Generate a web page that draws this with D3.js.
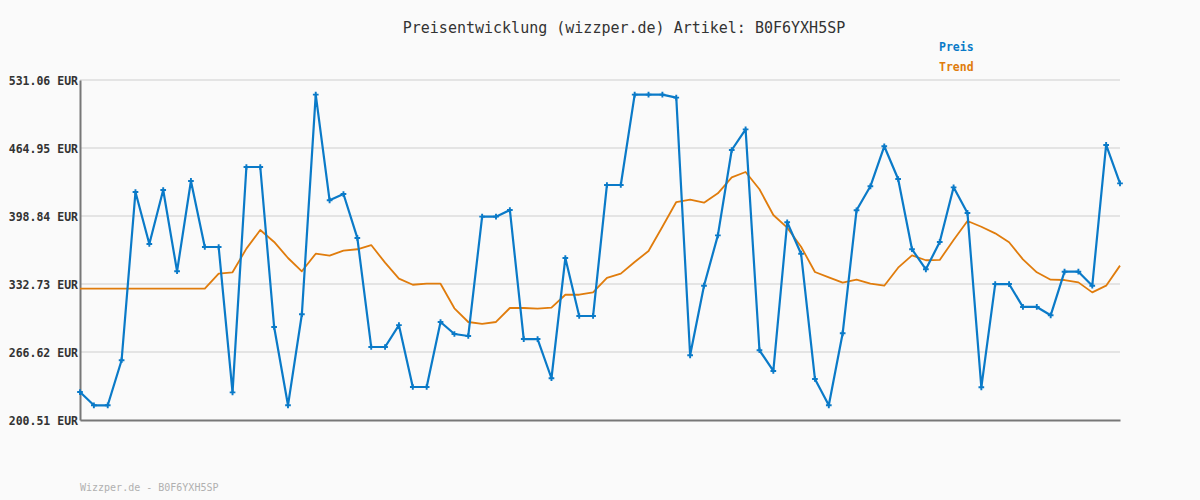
<!DOCTYPE html>
<html><head><meta charset="utf-8">
<script src="https://cdn.jsdelivr.net/npm/d3@7"></script>
<style>body{margin:0;background:#fafafa;}svg{display:block;}</style>
</head><body>
<script>
const titleText = "Preisentwicklung (wizzper.de) Artikel: B0F6YXH5SP";
const footerText = "Wizzper.de - B0F6YXH5SP";
const seriesNames = ["Preis", "Trend"];
const yTicks = [200.51, 266.62, 332.73, 398.84, 464.95, 531.06];
const yTickLabels = ["200.51 EUR", "266.62 EUR", "332.73 EUR", "398.84 EUR", "464.95 EUR", "531.06 EUR"];
const preis = [227.7, 214.8, 214.8, 258.6, 422.2, 371.6, 424.1, 345.1, 432.9, 368.7,
  368.7, 227.4, 446.5, 446.5, 290.9, 214.8, 303.3, 516.8, 414.1, 420.2,
  377.5, 271.5, 271.5, 292.7, 232.6, 232.6, 295.8, 284.1, 282.2, 398.2,
  398.2, 404.7, 279.2, 279.2, 241.1, 358.0, 301.6, 301.6, 429.0, 429.0,
  516.8, 516.8, 516.8, 513.9, 263.4, 331.1, 380.0, 463.0, 483.1, 268.3,
  248.2, 392.7, 362.2, 240.4, 214.8, 284.8, 404.4, 427.7, 466.6, 434.8,
  366.5, 347.0, 373.6, 426.7, 401.8, 232.3, 332.7, 332.7, 310.4, 310.4,
  302.3, 344.7, 344.7, 331.1, 467.9, 430.6];
const trend = [328.2, 328.2, 328.2, 328.2, 328.2, 328.2, 328.2, 328.2, 328.2, 328.2,
  342.8, 344.1, 367.1, 385.2, 373.6, 358.0, 345.1, 362.2, 360.3, 365.1,
  366.5, 370.6, 353.5, 338.0, 332.0, 333.0, 333.0, 309.1, 295.8, 293.9,
  295.8, 309.4, 309.4, 308.7, 309.7, 322.3, 322.3, 324.6, 338.6, 342.8,
  354.1, 364.8, 388.4, 412.4, 414.7, 411.8, 420.9, 436.4, 441.6, 424.8,
  399.8, 387.5, 369.0, 344.4, 339.2, 334.0, 336.9, 333.0, 331.1, 348.6,
  360.6, 355.8, 356.1, 375.5, 394.0, 388.4, 382.0, 373.3, 356.7, 344.1,
  336.9, 336.6, 334.3, 324.6, 331.1, 350.6];

const W = 1200, H = 500;
const blue = "#0a7ac8", orange = "#e07c0c";
const mono = "'DejaVu Sans Mono', 'Liberation Mono', monospace";
const svg = d3.select("body").append("svg").attr("width", W).attr("height", H)
  .style("background", "#fafafa");

const x = d3.scaleLinear().domain([0, preis.length - 1]).range([80, 1120]);
const y = d3.scaleLinear().domain([200.51, 531.06]).range([420, 80]);

// grid
svg.append("g").selectAll("line").data(yTicks.slice(1)).join("line")
  .attr("x1", 80).attr("x2", 1120)
  .attr("y1", d => y(d)).attr("y2", d => y(d))
  .attr("stroke", "#e4e4e4").attr("stroke-width", 2);

// axes
const yAxis = d3.axisLeft(y).tickValues(yTicks).tickFormat((d, i) => yTickLabels[i]).tickSize(0).tickPadding(2);
const gy = svg.append("g").attr("transform", "translate(80,0)").call(yAxis);
gy.select(".domain").attr("stroke", "#777").attr("stroke-width", 2);
gy.selectAll("text").attr("font-family", mono).attr("font-size", 11.5).attr("font-weight", "bold")
  .attr("fill", "#333").attr("dy", "0.35em");

const xAxis = d3.axisBottom(x).tickValues([]).tickSize(0);
const gx = svg.append("g").attr("transform", "translate(0,420)").call(xAxis);
gx.select(".domain").attr("stroke", "#777").attr("stroke-width", 2);

// lines
const line = d3.line().x((d, i) => x(i)).y(d => y(d));
svg.append("path").datum(trend).attr("d", line).attr("fill", "none")
  .attr("stroke", orange).attr("stroke-width", 1.8).attr("stroke-linejoin", "round");
svg.append("path").datum(preis).attr("d", line).attr("fill", "none")
  .attr("stroke", blue).attr("stroke-width", 2.2).attr("stroke-linejoin", "round");

// markers
const sym = d3.symbol().type(d3.symbolCross).size(18);
svg.append("g").selectAll("path").data(preis).join("path")
  .attr("transform", (d, i) => `translate(${x(i)},${y(d)})`)
  .attr("d", sym).attr("fill", blue);

// title
svg.append("text").attr("x", 624).attr("y", 33).attr("text-anchor", "middle")
  .attr("font-family", mono).attr("font-size", 15).attr("fill", "#333").text(titleText);

// legend
svg.append("text").attr("x", 939).attr("y", 51).attr("font-family", mono).attr("font-size", 11.5)
  .attr("font-weight", "bold").attr("fill", blue).text(seriesNames[0]);
svg.append("text").attr("x", 939).attr("y", 71).attr("font-family", mono).attr("font-size", 11.5)
  .attr("font-weight", "bold").attr("fill", orange).text(seriesNames[1]);

// footer
svg.append("text").attr("x", 80).attr("y", 491).attr("font-family", mono).attr("font-size", 10)
  .attr("fill", "#b0b0b0").text(footerText);
</script>
</body></html>
